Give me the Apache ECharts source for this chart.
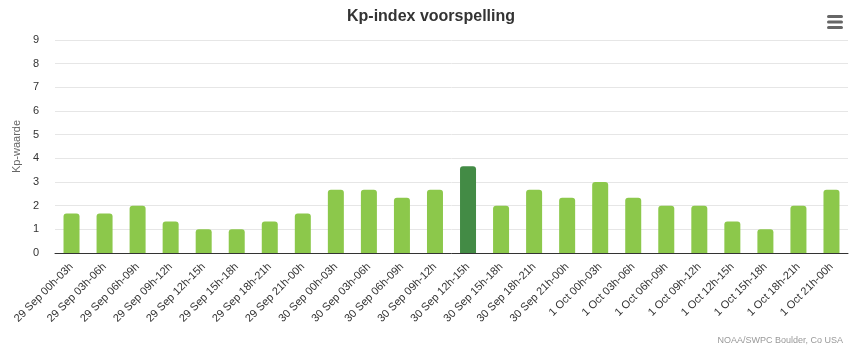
<!DOCTYPE html>
<html>
<head>
<meta charset="utf-8">
<script src="https://cdn.jsdelivr.net/npm/echarts@6/dist/echarts.min.js"></script>
<style>
html,body{margin:0;padding:0;background:#fff;}
#chart{width:862px;height:351px;}
</style>
</head>
<body>
<div id="chart"></div>
<script>
const categories = [
  "29 Sep 00h-03h","29 Sep 03h-06h","29 Sep 06h-09h","29 Sep 09h-12h",
  "29 Sep 12h-15h","29 Sep 15h-18h","29 Sep 18h-21h","29 Sep 21h-00h",
  "30 Sep 00h-03h","30 Sep 03h-06h","30 Sep 06h-09h","30 Sep 09h-12h",
  "30 Sep 12h-15h","30 Sep 15h-18h","30 Sep 18h-21h","30 Sep 21h-00h",
  "1 Oct 00h-03h","1 Oct 03h-06h","1 Oct 06h-09h","1 Oct 09h-12h",
  "1 Oct 12h-15h","1 Oct 15h-18h","1 Oct 18h-21h","1 Oct 21h-00h"
];
const kpValues = [
  1.67, 1.67, 2.00, 1.33, 1.00, 1.00, 1.33, 1.67,
  2.67, 2.67, 2.33, 2.67, 3.67, 2.00, 2.67, 2.33,
  3.00, 2.33, 2.00, 2.00, 1.33, 1.00, 2.00, 2.67
];
const yTicks = [0,1,2,3,4,5,6,7,8,9];

const FONT = '"Liberation Sans", Arial, Helvetica, sans-serif';
const chart = echarts.init(document.getElementById('chart'), null, {renderer:'canvas'});
chart.setOption({
  animation:false,
  backgroundColor:'#ffffff',
  title:{
    text:'Kp-index voorspelling',
    left:'center', top:4,
    textStyle:{fontFamily:FONT, fontSize:16, fontWeight:'bold', color:'#333333'}
  },
  grid:{left:55, right:14, top:40, bottom:98, containLabel:false},
  xAxis:{
    type:'category',
    data:categories,
    axisLine:{show:true, lineStyle:{color:'#333333', width:1}},
    axisTick:{show:false},
    axisLabel:{
      interval:0, rotate:45, margin:12,
      fontFamily:FONT, fontSize:11, color:'#333333'
    }
  },
  yAxis:{
    type:'value',
    min:yTicks[0], max:yTicks[yTicks.length-1], interval:1,
    name:'Kp-waarde',
    nameLocation:'middle',
    nameGap:32,
    nameTextStyle:{fontFamily:FONT, fontSize:11, color:'#666666'},
    axisLine:{show:false},
    axisTick:{show:false},
    axisLabel:{fontFamily:FONT, fontSize:11, color:'#333333', margin:16},
    splitLine:{lineStyle:{color:'#e6e6e6', width:1}}
  },
  series:[{
    type:'bar',
    data:kpValues,
    barWidth:16,
    itemStyle:{
      borderRadius:[3,3,0,0],
      color:function(p){ return p.value >= 3.5 ? '#438b45' : '#8cc84b'; }
    }
  }],
  graphic:[
    {type:'text', right:19, top:336,
     style:{text:'NOAA/SWPC Boulder, Co USA', font:'9px '+FONT, fill:'#999999'}},
    {type:'rect', left:827, top:15, shape:{width:16, height:3, r:1.5}, style:{fill:'#666666'}},
    {type:'rect', left:827, top:20.5, shape:{width:16, height:3, r:1.5}, style:{fill:'#666666'}},
    {type:'rect', left:827, top:26, shape:{width:16, height:3, r:1.5}, style:{fill:'#666666'}}
  ]
});
</script>
</body>
</html>
